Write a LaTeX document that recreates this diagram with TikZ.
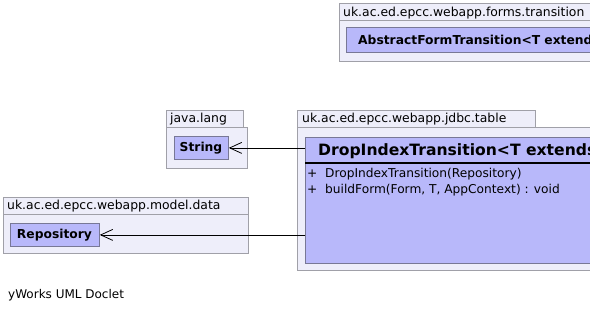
\documentclass[tikz,border=0pt]{standalone}
\usepackage{fontspec}
\setmainfont{DejaVu Sans}
\usetikzlibrary{arrows.meta}
\definecolor{pkgfill}{RGB}{238,238,250}
\definecolor{pkgline}{RGB}{160,160,168}
\definecolor{clsfill}{RGB}{184,184,250}
\definecolor{clsline}{RGB}{120,120,150}
\tikzset{
  pkgtab/.style={draw=pkgline, fill=pkgfill, line width=0.8pt},
  pkgbody/.style={draw=pkgline, fill=pkgfill, line width=0.8pt},
  pkglabel/.style={anchor=base west, inner sep=0pt, font=\fontsize{12.4}{14}\selectfont},
  clsbox/.style={draw=clsline, fill=clsfill, line width=0.8pt, inner sep=0pt, anchor=north west},
  clsname/.style={anchor=base, inner sep=0pt, font=\fontsize{12.3}{14}\selectfont\bfseries},
  member/.style={anchor=base west, inner sep=0pt, font=\fontsize{12.2}{14}\selectfont},
  assoc/.style={draw=black, line width=0.8pt, -{Straight Barb[length=12pt,width=11pt,line width=0.8pt]}}
}
\begin{document}
\begin{tikzpicture}[x=1pt, y=-1pt]
\useasboundingbox (0,0) rectangle (590,309);
\clip (0,0) rectangle (590,309);
\fill[white] (0,0) rectangle (590,309);

% package uk.ac.ed.epcc.webapp.forms.transition
\draw[pkgtab] (339,3.5) rectangle (600,20);
\draw[pkgbody] (339,20) rectangle (600,61);
\node[pkglabel] (pkgforms) at (343,16) {uk.ac.ed.epcc.webapp.forms.transition};
\node[clsbox, minimum width=260pt, minimum height=25pt] (aft) at (346,27) {};
\node[clsname, anchor=base west] (aftname) at (358,44) {AbstractFormTransition<T extends};

% package java.lang
\draw[pkgtab] (166,110) rectangle (243,127);
\draw[pkgbody] (166,127) rectangle (247,168);
\node[pkglabel] (pkgjava) at (170,122.5) {java.lang};
\node[clsbox, minimum width=54pt, minimum height=23pt] (string) at (174,136) {};
\node[clsname] (stringname) at (201,151) {String};

% package uk.ac.ed.epcc.webapp.model.data
\draw[pkgtab] (3,197) rectangle (248,214);
\draw[pkgbody] (3,214) rectangle (248,253);
\node[pkglabel] (pkgdata) at (7,209.5) {uk.ac.ed.epcc.webapp.model.data};
\node[clsbox, minimum width=89pt, minimum height=23pt] (repo) at (10,223) {};
\node[clsname] (reponame) at (54.5,238.5) {Repository};

% package uk.ac.ed.epcc.webapp.jdbc.table
\draw[pkgtab] (297,110) rectangle (535,127);
\draw[pkgbody] (297,127) rectangle (600,270);
\node[pkglabel] (pkgtable) at (302,122.5) {uk.ac.ed.epcc.webapp.jdbc.table};
\node[clsbox, minimum width=300pt, minimum height=126pt] (drop) at (305,137) {};
\draw[line width=2pt] (drop.west |- 0,163) -- (600,163);
\node[anchor=base west, inner sep=0pt, font=\fontsize{15.6}{18}\selectfont\bfseries] (dropname) at (318,155) {DropIndexTransition<T extends};
\node[member] (m1) at (307,177.5) {+\ \ DropIndexTransition(Repository)};
\node[member] (m2) at (307,193.5) {+\ \ buildForm(Form, T, AppContext) : void};

% associations
\draw[assoc] (drop.west |- string.east) -- (string.east);
\draw[assoc] (drop.west |- repo.east) -- (repo.east);

\node[anchor=base west, inner sep=0pt, font=\fontsize{12}{14}\selectfont] (doclet) at (8,298.5) {yWorks UML Doclet};
\end{tikzpicture}
\end{document}
